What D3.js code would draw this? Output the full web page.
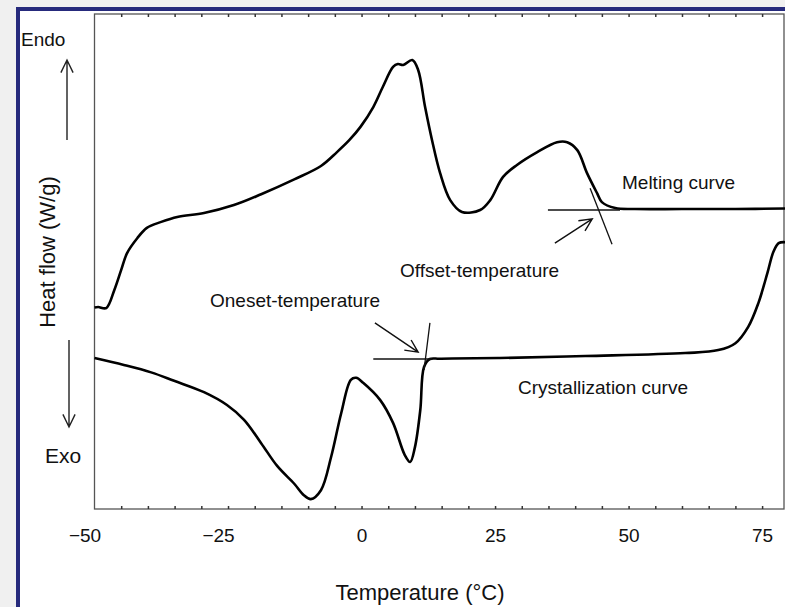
<!DOCTYPE html>
<html>
<head>
<meta charset="utf-8">
<script src="https://cdn.jsdelivr.net/npm/d3@7"></script>
<style>
  body { margin: 0; background: #f0f0f0; }
  text { font-family: "Liberation Sans", Arial, sans-serif; fill: #111; }
</style>
</head>
<body>
<div id="vis"></div>
<script>
// temperatures (°C) and heat flow (arbitrary units, 0-100 over the plot height)
const meltT = [-50, -49.3, -47.8, -46.3, -45.0, -43.9, -42.0, -40.2, -37.5, -34.5, -29.5, -23.9, -18.8, -12.6, -7.6, -4.6, -2.3, -0.2, 2.2, 4.0, 5.9, 6.8, 7.8, 9.5, 10.6, 11.9, 13.2, 14.7, 16.6, 18.8, 22.2, 24.1, 26.5, 29.1, 32.9, 36.6, 38.5, 40.4, 42.2, 44.1, 45.0, 47.5, 51.2, 60, 70, 79.3]
const meltV = [40.7, 40.8, 40.6, 44.2, 48.3, 51.7, 54.7, 56.8, 58.0, 59.0, 59.8, 61.4, 63.6, 66.6, 69.3, 72.1, 74.5, 77.2, 81.2, 85.3, 89.3, 89.9, 89.7, 90.7, 88.7, 81.2, 74.5, 67.9, 62.4, 60.0, 60.4, 62.4, 67.1, 69.5, 72.1, 74.1, 74.1, 72.5, 67.9, 63.8, 62.0, 60.8, 60.6, 60.6, 60.6, 60.7]

const crystT = [-50, -44.5, -39.4, -35.1, -29.5, -25.2, -22.0, -18.8, -15.8, -12.6, -10.8, -9.5, -7.6, -5.7, -3.8, -2.0, -1.0, 0.3, 3.5, 5.9, 8.1, 9.1, 10.0, 11.0, 11.7, 12.8, 14.5, 17, 25.9, 41.9, 60.6, 66.8, 70.0, 72.4, 74.3, 76.0, 77.1, 78.1, 79.3]
const crystV = [30.5, 29.1, 27.6, 25.9, 23.6, 21.0, 18.0, 13.3, 8.7, 5.1, 2.8, 2.0, 3.8, 10.5, 19.4, 26.1, 26.5, 25.5, 22.0, 17.4, 10.9, 9.5, 12.5, 20.0, 28.7, 30.3, 30.35, 30.4, 30.5, 30.9, 31.5, 32.1, 33.5, 36.8, 41.6, 47.7, 51.9, 53.7, 53.9]

const xTicks = [-50, -25, 0, 25, 50, 75]

// construction lines [x1, y1, x2, y2] in data units
const tangents = [
  [34.9, 60.4, 48.4, 60.4],
  [42.8, 64.8, 46.9, 53.5],
  [2.2, 30.3, 13.2, 30.3],
  [12.8, 37.6, 11.7, 28.1]
]
const arrows = [
  [36.2, 53.7, 43.2, 58.6],
  [2.5, 37.6, 10.6, 31.7]
]

const W = 785, H = 607
const m = {left: 94.5, top: 14, right: 784, bottom: 509}

const svg = d3.select("#vis").append("svg").attr("width", W).attr("height", H)

// frame
svg.append("rect").attr("x", 0).attr("y", 0).attr("width", W).attr("height", H).attr("fill", "#f0f0f0")
svg.append("rect").attr("x", 18).attr("y", 9).attr("width", W).attr("height", H)
  .attr("fill", "#fff").attr("stroke", "#262a7c").attr("stroke-width", 4)

const x = d3.scaleLinear().domain([-50, 79.1]).range([m.left, m.right])
const y = d3.scaleLinear().domain([0, 100]).range([m.bottom, m.top])

// plot box
svg.append("rect").attr("x", m.left).attr("y", m.top)
  .attr("width", m.right - m.left).attr("height", m.bottom - m.top)
  .attr("fill", "none").attr("stroke", "#555").attr("stroke-width", 1.3)

const minor = d3.range(-45, 80, 5)
const bottomAxis = svg.append("g").attr("transform", `translate(0,${m.bottom})`)
  .call(d3.axisBottom(x).tickValues(minor).tickSize(-3).tickFormat(""))
bottomAxis.select(".domain").remove()
const topAxis = svg.append("g").attr("transform", `translate(0,${m.top})`)
  .call(d3.axisTop(x).tickValues(minor).tickSize(-3).tickFormat(""))
topAxis.select(".domain").remove()
svg.selectAll(".tick line").attr("stroke", "#333").attr("stroke-width", 1.5)

const labels = svg.append("g").attr("transform", `translate(0,${m.bottom})`)
  .call(d3.axisBottom(x).tickValues(xTicks).tickSize(0).tickPadding(20)
    .tickFormat(d => d < 0 ? "\u2212" + Math.abs(d) : d))
labels.select(".domain").remove()
labels.selectAll("text").attr("font-size", 19).attr("font-family", "Liberation Sans, Arial, sans-serif").attr("fill", "#111")
  .attr("dx", d => d < 0 ? -10 : 0)

const line = d3.line().x(d => x(d[0])).y(d => y(d[1])).curve(d3.curveCatmullRom.alpha(0.5))
const melt = meltT.map((t, i) => [t, meltV[i]])
const crys = crystT.map((t, i) => [t, crystV[i]])

svg.append("path").datum(melt).attr("d", line)
  .attr("fill", "none").attr("stroke", "#000").attr("stroke-width", 2.6)
svg.append("path").datum(crys).attr("d", line)
  .attr("fill", "none").attr("stroke", "#000").attr("stroke-width", 2.6)

svg.selectAll(".tangent").data(tangents).enter().append("line")
  .attr("x1", d => x(d[0])).attr("y1", d => y(d[1]))
  .attr("x2", d => x(d[2])).attr("y2", d => y(d[3]))
  .attr("stroke", "#111").attr("stroke-width", 1.3)

function arrowPath(x1, y1, x2, y2, len) {
  const a = Math.atan2(y2 - y1, x2 - x1)
  const s = 0.45
  const hx1 = x2 - len * Math.cos(a - s), hy1 = y2 - len * Math.sin(a - s)
  const hx2 = x2 - len * Math.cos(a + s), hy2 = y2 - len * Math.sin(a + s)
  return `M${x1},${y1}L${x2},${y2}M${hx1},${hy1}L${x2},${y2}L${hx2},${hy2}`
}

svg.selectAll(".arrow").data(arrows).enter().append("path")
  .attr("d", d => arrowPath(x(d[0]), y(d[1]), x(d[2]), y(d[3]), 14))
  .attr("fill", "none").attr("stroke", "#111").attr("stroke-width", 1.4)

// endo / exo arrows
svg.append("path").attr("d", arrowPath(67, 140, 67, 60, 14))
  .attr("fill", "none").attr("stroke", "#222").attr("stroke-width", 1.4)
svg.append("path").attr("d", arrowPath(69, 340, 69, 427, 14))
  .attr("fill", "none").attr("stroke", "#222").attr("stroke-width", 1.4)

svg.append("text").attr("x", 21).attr("y", 46).attr("font-size", 19).text("Endo")
svg.append("text").attr("x", 45).attr("y", 463).attr("font-size", 21).text("Exo")
svg.append("text").attr("transform", "translate(55,252) rotate(-90)")
  .attr("text-anchor", "middle").attr("font-size", 22).text("Heat flow (W/g)")
svg.append("text").attr("x", 420).attr("y", 600)
  .attr("text-anchor", "middle").attr("font-size", 22).text("Temperature (\u00b0C)")

svg.append("text").attr("x", 622).attr("y", 189).attr("font-size", 19).text("Melting curve")
svg.append("text").attr("x", 400).attr("y", 277).attr("font-size", 19).text("Offset-temperature")
svg.append("text").attr("x", 210).attr("y", 307).attr("font-size", 19).text("Oneset-temperature")
svg.append("text").attr("x", 518).attr("y", 394).attr("font-size", 19).text("Crystallization curve")
</script>
</body>
</html>
